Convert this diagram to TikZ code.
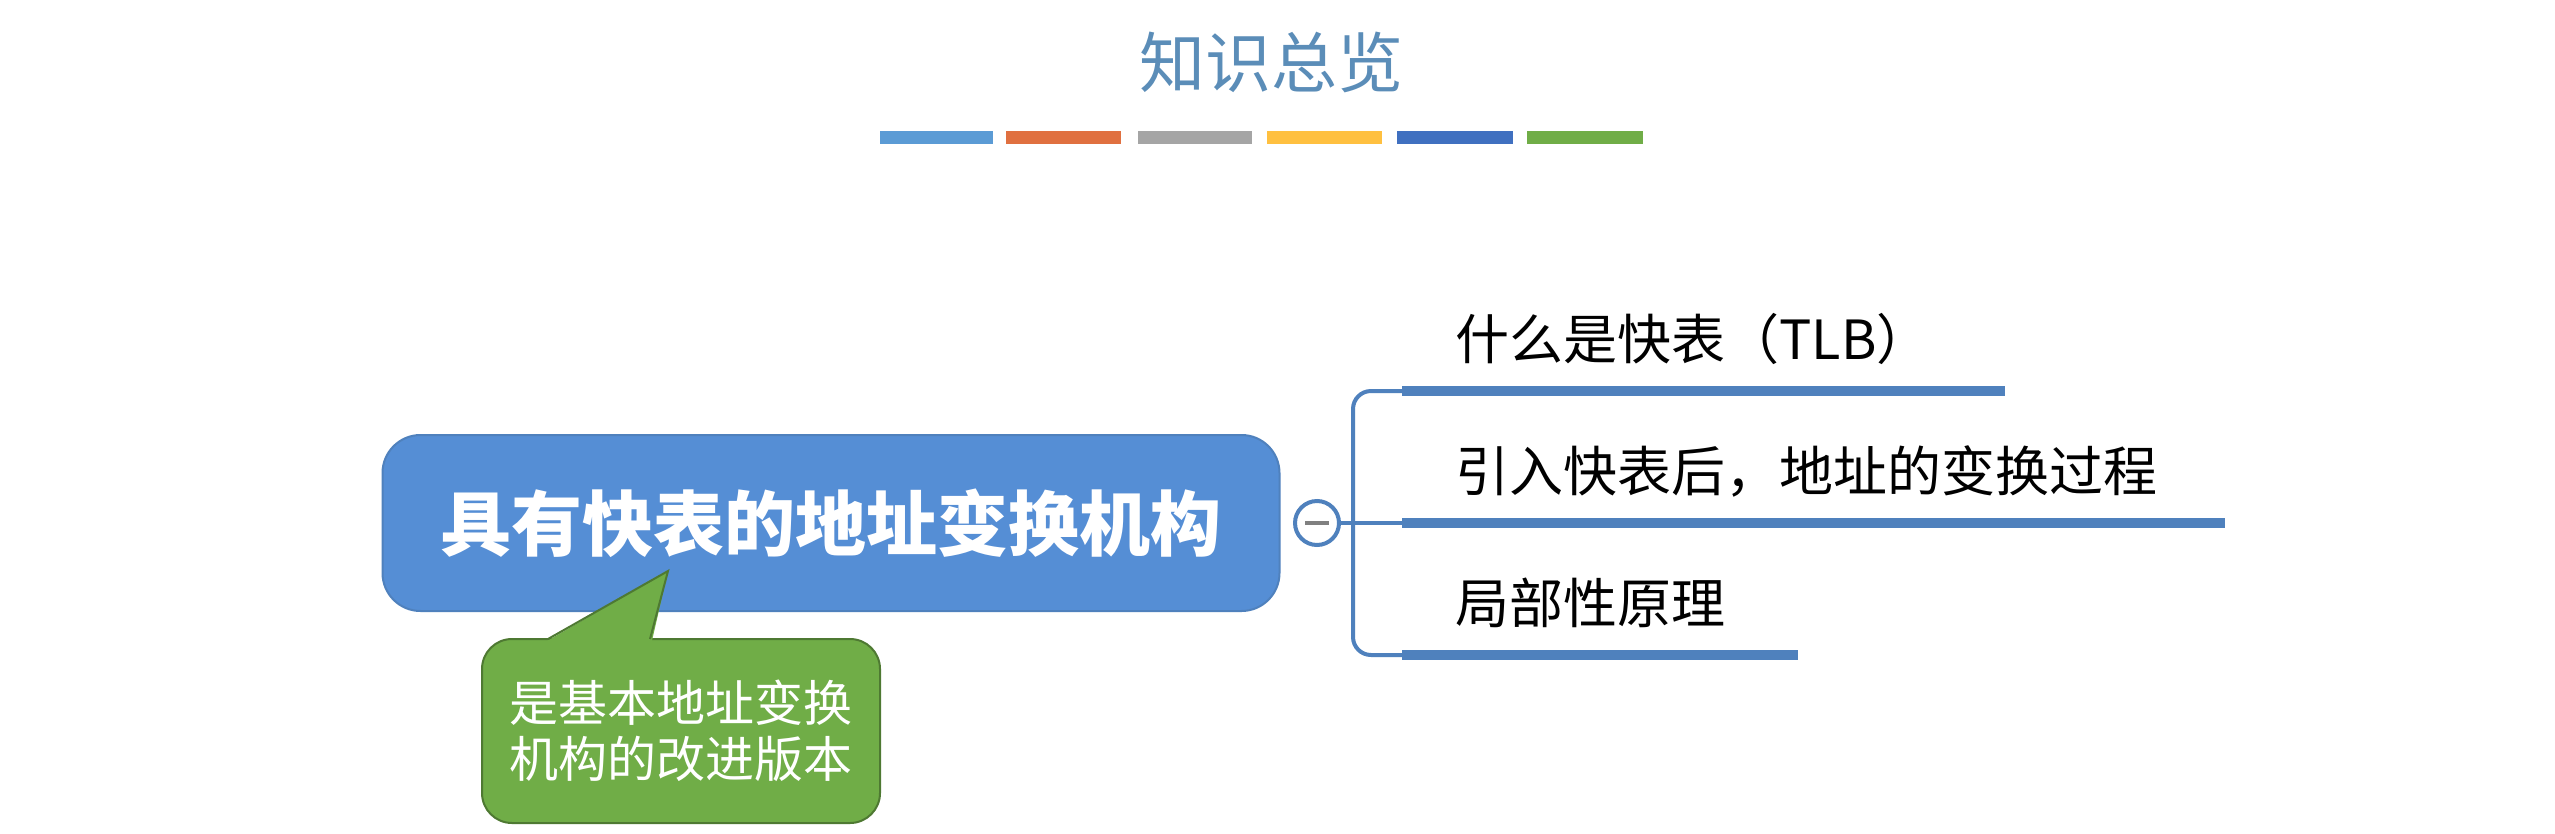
\documentclass[tikz,border=0pt]{standalone}
\usepackage{fontspec}
\setmainfont{Noto Sans CJK SC}
\newfontfamily\cjk{Noto Sans CJK SC}
\begin{document}
\begin{tikzpicture}[x=1pt,y=-1pt,
  bar/.style={line width=13pt},
  branch/.style={draw=blueLine,line width=10pt},
  lbl/.style={anchor=west,font=\fontsize{54}{60}\selectfont,text=black}]
\definecolor{blueBox}{HTML}{558ED5}
\definecolor{blueLine}{HTML}{4F81BD}
\definecolor{greenBox}{HTML}{70AD47}
\definecolor{titleC}{HTML}{5B8DB8}
\useasboundingbox (0,0) rectangle (2555,833);
\fill[white] (0,0) rectangle (2555,833);
% title
\node[font=\fontsize{66}{70}\selectfont,text=titleC] (title) at (1271,62) {知识总览};
\foreach \a/\b/\c in {880/993/5B9BD5,1006/1121/E07040,1138/1252/A5A5A5,1267/1382/FFC040,1397/1513/4070C0,1527/1643/70AD47}{
  \definecolor{tmp}{HTML}{\c}
  \draw[bar,draw=tmp] (\a,137) -- (\b,137);
}
% connectors
\coordinate (bt) at (1353,391);
\coordinate (bb) at (1353,655);
\draw[blueLine,line width=4pt,rounded corners=18pt] (1402,391) -- (bt) -- (bb) -- (1402,655);
\draw[blueLine,line width=4pt] (1300,523) -- (1402,523);
\draw[branch] (1402,391) -- (2005,391);
\draw[branch] (1402,523) -- (2225,523);
\draw[branch] (1402,655) -- (1798,655);
% main box
\node[draw=blueLine,line width=2pt,fill=blueBox,rounded corners=38pt,minimum width=897pt,minimum height=176pt,
  text=white,font=\bfseries\fontsize{71}{78}\selectfont] (main) at (831,523) {具有快表的地址变换机构};
\node[circle,draw=blueLine,line width=4pt,fill=white,minimum size=44pt,inner sep=0pt] (col) at (1317,523) {};
\draw[gray,line width=4pt] (1305,523) -- (1329,523);
% labels
\node[lbl] (l1) at (1452,339) {什么是快表（TLB）};
\node[lbl] (l2) at (1452,471) {引入快表后，地址的变换过程};
\node[lbl] (l3) at (1452,603) {局部性原理};
% callout
\fill[greenBox,draw=greenBox!70!black,line width=2pt,rounded corners=30pt]
  (482,639) -- (880,639) -- (880,823) -- (482,823) -- cycle;
\fill[greenBox] (540,645) -- (668,571) -- (651,645) -- cycle;
\draw[greenBox!70!black,line width=2pt] (548,639) -- (668,571) -- (650,639);
\node[text=white,align=center,font=\fontsize{49}{56}\selectfont] (note) at (681,731) {是基本地址变换\\机构的改进版本};
\end{tikzpicture}
\end{document}
